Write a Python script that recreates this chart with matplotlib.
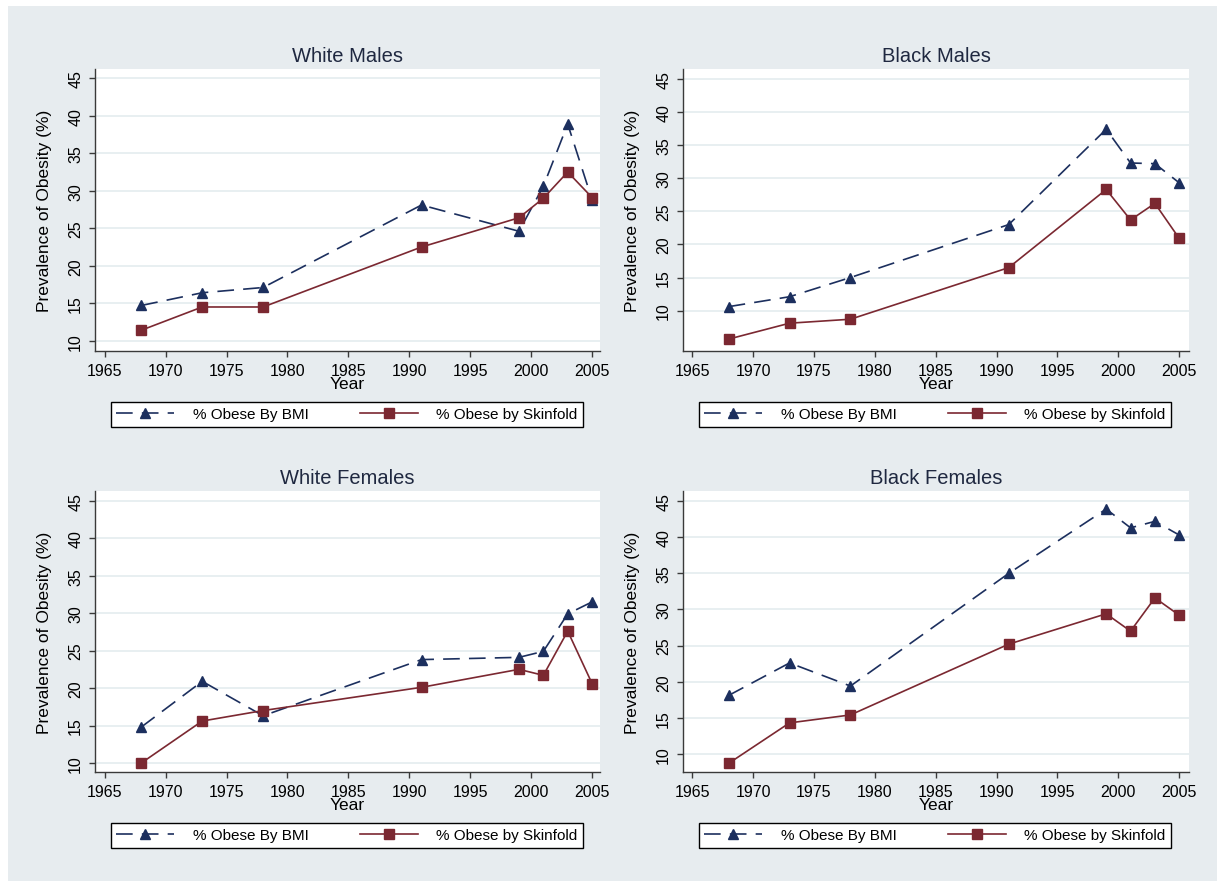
import matplotlib
matplotlib.use("Agg")
import matplotlib.pyplot as plt
from matplotlib.patches import Rectangle

plt.rcParams['font.family'] = ['Liberation Sans', 'DejaVu Sans']

years = [1968, 1973, 1978, 1991, 1999, 2001, 2003, 2005]

titles = ["White Males", "Black Males", "White Females", "Black Females"]

bmi_white_males = [14.7, 16.4, 17.1, 28.1, 24.6, 30.6, 38.9, 28.8]
skin_white_males = [11.4, 14.5, 14.5, 22.5, 26.4, 29.0, 32.5, 29.1]

bmi_black_males = [10.6, 12.1, 15.0, 23.0, 37.4, 32.3, 32.2, 29.3]
skin_black_males = [5.7, 8.1, 8.7, 16.5, 28.3, 23.7, 26.2, 20.9]

bmi_white_females = [14.8, 20.9, 16.3, 23.8, 24.1, 24.9, 29.9, 31.5]
skin_white_females = [10.0, 15.6, 17.0, 20.1, 22.5, 21.7, 27.6, 20.6]

bmi_black_females = [18.1, 22.6, 19.4, 35.0, 43.9, 41.3, 42.2, 40.3]
skin_black_females = [8.7, 14.3, 15.4, 25.2, 29.4, 27.0, 31.6, 29.2]

series_bmi = [bmi_white_males, bmi_black_males, bmi_white_females, bmi_black_females]
series_skin = [skin_white_males, skin_black_males, skin_white_females, skin_black_females]

xticks = [1965, 1970, 1975, 1980, 1985, 1990, 1995, 2000, 2005]
yticks = [10, 15, 20, 25, 30, 35, 40, 45]

label_bmi = "% Obese By BMI"
label_skin = "% Obese by Skinfold"

W, H = 1223, 887
fig = plt.figure(figsize=(W / 100, H / 100), dpi=100)
fig.patch.set_facecolor('white')
bg = '#e7ecef'
fig.patches.append(Rectangle((8 / W, 1 - 882 / H), (1217 - 8) / W, (882 - 7) / H,
                             transform=fig.transFigure, facecolor=bg, edgecolor='none', zorder=-10))

navy = '#1c2f5e'
maroon = '#7b2831'
title_col = '#1f2840'

# axes boxes in pixels: (left, top, right, bottom)
boxes = [(95, 70, 600, 352), (683, 70, 1189, 352),
         (95, 492, 600, 773), (683, 492, 1189, 773)]
ylims = [(8.63, 46.24), (3.9, 46.5), (8.8, 46.3), (7.5, 46.4)]
xlims = [(1964.2, 2005.65), (1964.25, 2005.8), (1964.2, 2005.65), (1964.25, 2005.8)]

for i in range(4):
    l, t, r, b = boxes[i]
    ax = fig.add_axes([l / W, 1 - b / H, (r - l) / W, (b - t) / H])
    ax.set_facecolor('white')
    for s in ['top', 'right']:
        ax.spines[s].set_visible(False)
    for s in ['left', 'bottom']:
        ax.spines[s].set_color('#3a3a3a')
        ax.spines[s].set_linewidth(1.0)
    ax.set_xlim(*xlims[i])
    ax.set_ylim(*ylims[i])
    ax.set_xticks(xticks)
    ax.set_yticks(yticks)
    ax.tick_params(axis='both', direction='out', length=4.5, width=1.0, color='#3a3a3a',
                   labelsize=11.5, pad=4)
    for lab in ax.get_yticklabels():
        lab.set_rotation(90)
        lab.set_va('center')
    ax.grid(axis='y', color='#e6eef0', linewidth=1.3)
    ax.set_axisbelow(True)

    ax.plot(years, series_bmi[i], color=navy, linewidth=1.2, dashes=(10, 5.5),
            marker='^', markersize=7.5, markerfacecolor=navy, markeredgecolor=navy,
            label=label_bmi, clip_on=False, zorder=3)
    ax.plot(years, series_skin[i], color=maroon, linewidth=1.2, linestyle='-',
            marker='s', markersize=6.7, markerfacecolor=maroon, markeredgecolor=maroon,
            label=label_skin, clip_on=False, zorder=4)

    ax.set_title(titles[i], fontsize=14.5, pad=6, color=title_col)
    ax.set_xlabel("Year", fontsize=12.5, labelpad=-1)
    ax.set_ylabel("Prevalence of Obesity (%)", fontsize=12.5, labelpad=11.5)

    # legend box
    hgt = b - t
    wid = r - l
    lx0 = 16 / wid
    lx1 = (583 - 95) / wid
    ly1 = -(51 / hgt)
    leg = ax.legend(loc='upper left', bbox_to_anchor=(lx0, ly1 - 0.1, lx1 - lx0, 0.1),
                    mode='expand', ncol=2, fontsize=11, frameon=True, fancybox=False,
                    edgecolor='black', framealpha=1, borderaxespad=0, borderpad=0.35,
                    handlelength=3.8, handletextpad=1.2, columnspacing=2.0)
    leg.get_frame().set_linewidth(1.0)

fig.savefig('out.png', dpi=100, facecolor=fig.get_facecolor())
